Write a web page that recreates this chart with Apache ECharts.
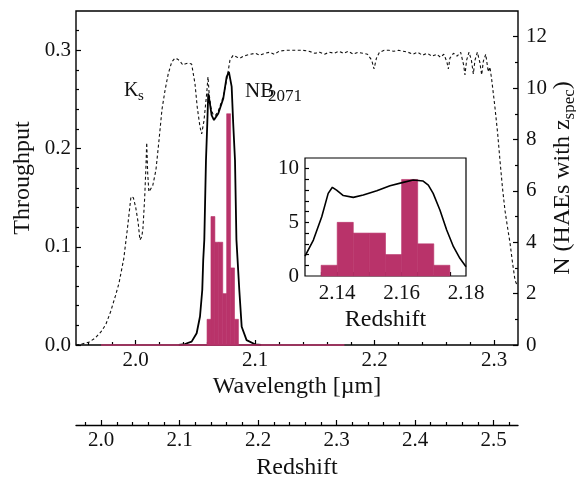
<!DOCTYPE html>
<html><head><meta charset="utf-8">
<script src="https://cdn.jsdelivr.net/npm/echarts@6/dist/echarts.min.js"></script>
<style>html,body{margin:0;padding:0;background:#fff}#c{width:576px;height:481px}</style>
</head><body><div id="c"></div>
<script>
const FONT = 'Liberation Serif';
const INK = '#111';
const BAR = '#b9336a';

// Ks broadband filter throughput (dashed)
const ksWave = [1.950,1.955,1.961,1.966,1.971,1.975,1.979,1.983,1.986,1.990,1.993,1.995,1.996,1.998,2.000,2.002,2.0035,2.005,2.006,2.0075,2.0085,2.0092,2.0100,2.0110,2.0125,2.0142,2.0169,2.0192,2.0220,2.0245,2.0272,2.0301,2.0328,2.0350,2.0370,2.0395,2.0412,2.0440,2.0468,2.0496,2.0515,2.0538,2.0552,2.0571,2.0594,2.0605,2.0615,2.0630,2.0649,2.0670,2.0691,2.0733,2.0766,2.0789,2.0816,2.0850,2.0872,2.0900,2.0928,2.096,2.100,2.104,2.108,2.112,2.116,2.120,2.125,2.130,2.135,2.140,2.145,2.150,2.154,2.158,2.162,2.166,2.170,2.174,2.178,2.182,2.186,2.190,2.194,2.1975,2.1995,2.2015,2.204,2.208,2.212,2.216,2.220,2.224,2.228,2.232,2.236,2.240,2.244,2.248,2.252,2.255,2.258,2.2605,2.2617,2.263,2.266,2.269,2.272,2.2745,2.2756,2.277,2.279,2.281,2.2826,2.284,2.286,2.288,2.2896,2.291,2.293,2.2951,2.2965,2.298,2.3007,2.3030,2.3049,2.3070,2.3091,2.3112,2.3133,2.3155,2.3175,2.3192];
const ksThru = [0.000,0.001,0.003,0.007,0.0135,0.021,0.034,0.050,0.063,0.088,0.118,0.140,0.151,0.150,0.140,0.125,0.107,0.110,0.118,0.150,0.180,0.206,0.175,0.156,0.158,0.162,0.178,0.205,0.240,0.259,0.276,0.288,0.292,0.291,0.289,0.285,0.286,0.287,0.286,0.266,0.242,0.222,0.215,0.228,0.256,0.273,0.255,0.241,0.234,0.234,0.238,0.253,0.273,0.290,0.295,0.293,0.292,0.294,0.295,0.296,0.297,0.295,0.297,0.298,0.296,0.299,0.300,0.300,0.300,0.300,0.299,0.297,0.298,0.296,0.298,0.297,0.299,0.297,0.299,0.296,0.298,0.297,0.296,0.290,0.281,0.292,0.298,0.300,0.300,0.299,0.300,0.299,0.298,0.296,0.298,0.295,0.297,0.294,0.296,0.293,0.296,0.288,0.281,0.292,0.297,0.294,0.298,0.285,0.275,0.290,0.298,0.290,0.276,0.290,0.298,0.288,0.275,0.289,0.296,0.278,0.283,0.270,0.242,0.215,0.188,0.160,0.137,0.120,0.104,0.083,0.066,0.061];

// NB2071 narrow-band filter throughput (solid)
const nbWave = [2.036,2.0412,2.0468,2.0510,2.0538,2.0557,2.0565,2.0574,2.0588,2.0599,2.0607,2.0621,2.0635,2.0655,2.0691,2.0733,2.0761,2.0780,2.0803,2.0816,2.0831,2.0843,2.0867,2.0887,2.0928,2.0998,2.105];
const nbThru = [0.000,0.001,0.0034,0.012,0.029,0.056,0.0865,0.107,0.188,0.2255,0.256,0.246,0.234,0.229,0.2357,0.251,0.273,0.278,0.263,0.2255,0.188,0.107,0.056,0.0186,0.005,0.0007,0.000];

// Spectroscopic redshift histogram of HAEs
const histEdgesZ = [2.135,2.140,2.145,2.150,2.155,2.160,2.165,2.170,2.175];
const histCounts = [1,5,4,4,2,9,3,1];
const histEmptyRangeZ = [2.0, 2.31];

// Inset: NB2071 response in redshift space (scaled)
const insetZ = [2.130,2.1326,2.1352,2.1372,2.1385,2.1398,2.1419,2.1450,2.1481,2.1523,2.1564,2.1605,2.1636,2.1667,2.1683,2.1698,2.1719,2.1740,2.1761,2.1781,2.1800];
const insetN = [1.86,3.35,5.53,7.7,8.27,8.0,7.5,7.33,7.55,7.95,8.42,8.73,8.95,8.85,8.48,7.7,6.15,4.29,2.73,1.65,0.87];

// Tick labels
const waveTicks = [2.0,2.1,2.2,2.3];
const thruTicks = [0.0,0.1,0.2,0.3];
const nTicks = [0,2,4,6,8,10,12];
const insetZTicks = [2.14,2.16,2.18];
const insetNTicks = [0,5,10];
const zTicks = [2.0,2.1,2.2,2.3,2.4,2.5];

const HALPHA = 0.657; // rest wavelength used for the redshift <-> wavelength conversion
const WMIN = 1.95, WMAX = 2.32;
const toWave = z => HALPHA * (1 + z);

function steps(a, b, s, skip) {
  const out = [];
  for (let v = a; v <= b + 1e-9; v += s) {
    const r = Math.round(v * 1000) / 1000;
    if (!skip || Math.abs(r / skip - Math.round(r / skip)) > 1e-6) out.push(r);
  }
  return out;
}
const waveMinor = steps(1.96, 2.30, 0.02, 0.1);
const thruMinor = steps(0.02, 0.32, 0.02, 0.1);
const nMinor = steps(1, 11, 2);
const insetZMinor = steps(2.135, 2.175, 0.005);
const insetNMinor = steps(1, 10, 1);
const zMinor = steps(1.98, 2.52, 0.02, 0.1);

const TICKFS = 21, NAMEFS = 24;
const lbl = (extra) => Object.assign({fontFamily: FONT, fontSize: TICKFS, color: INK}, extra);
const tick = (vals, len) => ({show: true, inside: true, length: len, customValues: vals, lineStyle: {color: '#000', width: 1.2}});
const off = {show: false};

function xAx(o) {
  return Object.assign({type: 'value', axisLine: off, splitLine: off, axisLabel: off, axisTick: off, nameMoveOverlap: false}, o);
}

const chart = echarts.init(document.getElementById('c'), null, {renderer: 'canvas'});

const histData = histCounts.map((c, i) => [histEdgesZ[i], histEdgesZ[i + 1], c]);
const histDataWave = histCounts.map((c, i) => [toWave(histEdgesZ[i]), toWave(histEdgesZ[i + 1]), c]);

function barRender(params, api) {
  const p0 = api.coord([api.value(0), api.value(2)]);
  const p1 = api.coord([api.value(1), 0]);
  return {type: 'rect', shape: {x: p0[0], y: p0[1], width: p1[0] - p0[0], height: p1[1] - p0[1]},
    style: {fill: BAR, stroke: BAR, lineWidth: 0.6}};
}

const nameStyle = {fontFamily: FONT, fontSize: NAMEFS, color: INK};

chart.setOption({
  animation: false,
  backgroundColor: '#fff',
  grid: [
    {left: 76, top: 11, width: 442, height: 334, outerBoundsMode: 'none', containLabel: false, show: true, borderColor: '#000', borderWidth: 1.4, backgroundColor: 'transparent'},
    {left: 305, top: 158, width: 161, height: 118, outerBoundsMode: 'none', containLabel: false, show: true, borderColor: '#000', borderWidth: 1.2, backgroundColor: '#fff'},
    {left: 76, top: 405, width: 442, height: 20, outerBoundsMode: 'none', containLabel: false, show: false}
  ],
  xAxis: [
    xAx({gridIndex: 0, min: WMIN, max: WMAX, position: 'bottom',
      axisTick: tick(waveTicks, 5),
      axisLabel: lbl({show: true, customValues: waveTicks, formatter: v => v.toFixed(1), margin: 5}),
      name: 'Wavelength [µm]', nameLocation: 'middle', nameGap: 30, nameTextStyle: nameStyle}),
    xAx({gridIndex: 0, min: WMIN, max: WMAX, position: 'bottom', axisTick: tick(waveMinor, 3)}),
    xAx({gridIndex: 1, min: 2.13, max: 2.18, position: 'bottom',
      axisTick: tick(insetZMinor, 4),
      axisLabel: lbl({show: true, customValues: insetZTicks, formatter: v => v.toFixed(2), margin: 7}),
      name: 'Redshift', nameLocation: 'middle', nameGap: 32, nameTextStyle: nameStyle}),
    xAx({gridIndex: 2, min: WMIN / HALPHA - 1, max: WMAX / HALPHA - 1, position: 'bottom',
      axisLine: {show: true, onZero: false, lineStyle: {color: '#000', width: 1.4}},
      axisTick: tick(zTicks, 5),
      axisLabel: lbl({show: true, customValues: zTicks, formatter: v => v.toFixed(1), margin: 5}),
      name: 'Redshift', nameLocation: 'middle', nameGap: 31, nameTextStyle: nameStyle}),
    xAx({gridIndex: 2, min: WMIN / HALPHA - 1, max: WMAX / HALPHA - 1, position: 'bottom', axisTick: tick(zMinor, 3)})
  ],
  yAxis: [
    xAx({gridIndex: 0, min: 0, max: 0.34, position: 'left',
      axisTick: tick(thruTicks, 5),
      axisLabel: lbl({show: true, customValues: thruTicks, formatter: v => v.toFixed(1), margin: 5}),
      name: 'Throughput', nameLocation: 'middle', nameGap: 41, nameRotate: 90, nameTextStyle: nameStyle}),
    xAx({gridIndex: 0, min: 0, max: 0.34, position: 'left', axisTick: tick(thruMinor, 3)}),
    xAx({gridIndex: 0, min: 0, max: 13, position: 'right',
      axisTick: tick(nTicks, 5),
      axisLabel: lbl({show: true, customValues: nTicks, formatter: v => String(v), margin: 8}),
      name: '{a|N (HAEs with z}{b|spec}{a|)}', nameLocation: 'middle', nameGap: 30, nameRotate: 90,
      nameTextStyle: {fontFamily: FONT, fontSize: NAMEFS, color: INK, rich: {
        a: {fontFamily: FONT, fontSize: NAMEFS, color: INK},
        b: {fontFamily: FONT, fontSize: 17, color: INK, padding: [13, 0, 0, 0]}
      }}}),
    xAx({gridIndex: 0, min: 0, max: 13, position: 'right', axisTick: tick(nMinor, 3)}),
    xAx({gridIndex: 1, min: 0, max: 11, position: 'left',
      axisTick: tick(insetNMinor, 4),
      axisLabel: lbl({show: true, customValues: insetNTicks, formatter: v => String(v), margin: 6})}),
    xAx({gridIndex: 2, min: 0, max: 1, show: false})
  ],
  series: [
    {type: 'custom', xAxisIndex: 0, yAxisIndex: 2, renderItem: barRender, data: histDataWave, encode: {x: [0, 1], y: 2}, z: 3},
    {type: 'line', xAxisIndex: 0, yAxisIndex: 2, data: histEmptyRangeZ.map(z => [toWave(z), 0]),
      symbol: 'none', clip: false, lineStyle: {color: BAR, width: 1.6}, z: 6},
    {type: 'line', xAxisIndex: 0, yAxisIndex: 0, data: ksWave.map((w, i) => [w, ksThru[i]]),
      symbol: 'none', lineStyle: {color: INK, width: 1.1, type: [3, 2.5]}, z: 4},
    {type: 'line', xAxisIndex: 0, yAxisIndex: 0, data: nbWave.map((w, i) => [w, nbThru[i]]),
      symbol: 'none', lineStyle: {color: '#000', width: 1.8}, z: 5},
    {type: 'custom', xAxisIndex: 2, yAxisIndex: 4, renderItem: barRender, data: histData, encode: {x: [0, 1], y: 2}, z: 3},
    {type: 'line', xAxisIndex: 2, yAxisIndex: 4, data: insetZ.map((z, i) => [z, insetN[i]]),
      symbol: 'none', lineStyle: {color: '#000', width: 1.6}, z: 5}
  ],
  graphic: [
    {type: 'text', x: 124, y: 91, style: {text: 'K', font: '20px "Liberation Serif"', fill: INK, verticalAlign: 'middle'}},
    {type: 'text', x: 138, y: 96, style: {text: 's', font: '15px "Liberation Serif"', fill: INK, verticalAlign: 'middle'}},
    {type: 'text', x: 245, y: 91, style: {text: 'NB', font: '21px "Liberation Serif"', fill: INK, verticalAlign: 'middle'}},
    {type: 'text', x: 268, y: 97, style: {text: '2071', font: '17px "Liberation Serif"', fill: INK, verticalAlign: 'middle'}}
  ]
});
</script></body></html>
